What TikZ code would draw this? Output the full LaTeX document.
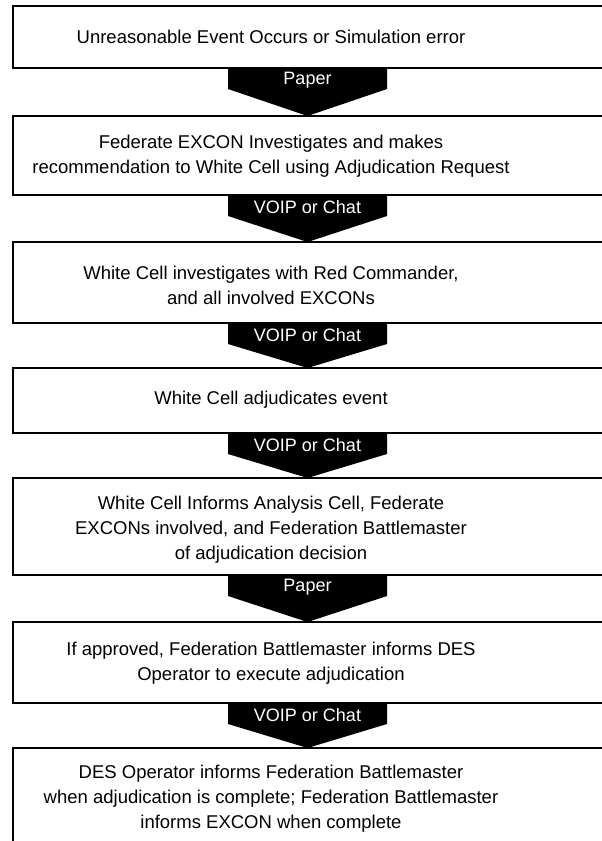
\documentclass[tikz,border=0pt]{standalone}
\usepackage{fontspec}
\setmainfont{Liberation Sans}
\usetikzlibrary{calc}
\begin{document}
\begin{tikzpicture}[x=1pt,y=-1pt,
  box/.style={draw=black, line width=1.8pt, fill=white, anchor=north west,
    minimum width=640pt, inner sep=0pt, outer sep=0pt},
  txt/.style={align=center, inner sep=0pt, font=\fontsize{18.5}{25}\selectfont},
  lbl/.style={text=white, inner sep=0pt, font=\fontsize{18}{20}\selectfont}]
\useasboundingbox (0,0) rectangle (602,841);
\clip (0,0) rectangle (602,841);
\newcommand\flowarrow[3]{%
  \fill let \p1=(#1.south), \p2=(#2.north) in
    (228pt,\y1) -- (387pt,\y1) -- (387pt,\y1-21pt) -- (307.5pt,\y2) -- (228pt,\y1-21pt) -- cycle
    node[lbl] at (307.5pt,\y1-12pt) {#3};}
\node[box, minimum height=62pt] (b1) at (13,6) {};
\node[box, minimum height=79pt] (b2) at (13,116) {};
\node[box, minimum height=81pt] (b3) at (13,242) {};
\node[box, minimum height=65pt] (b4) at (13,368) {};
\node[box, minimum height=97pt] (b5) at (13,478) {};
\node[box, minimum height=81pt] (b6) at (13,622) {};
\node[box, minimum height=120pt] (b7) at (13,748) {};
\node[txt] (t1) at (271,37) {Unreasonable Event Occurs or Simulation error};
\node[txt] (t2) at (271,156) {Federate EXCON Investigates and makes\\recommendation to White Cell using Adjudication Request};
\node[txt] (t3) at (271,285) {White Cell investigates with Red Commander,\\and all involved EXCONs};
\node[txt] (t4) at (271,400) {White Cell adjudicates event};
\node[txt] (t5) at (271,530) {White Cell Informs Analysis Cell, Federate\\EXCONs involved, and Federation Battlemaster\\of adjudication decision};
\node[txt] (t6) at (271,663) {If approved, Federation Battlemaster informs DES\\Operator to execute adjudication};
\node[txt] (t7) at (271,799) {DES Operator informs Federation Battlemaster\\when adjudication is complete; Federation Battlemaster\\informs EXCON when complete};
\flowarrow{b1}{b2}{Paper}
\flowarrow{b2}{b3}{VOIP or Chat}
\flowarrow{b3}{b4}{VOIP or Chat}
\flowarrow{b4}{b5}{VOIP or Chat}
\flowarrow{b5}{b6}{Paper}
\flowarrow{b6}{b7}{VOIP or Chat}
\end{tikzpicture}
\end{document}
